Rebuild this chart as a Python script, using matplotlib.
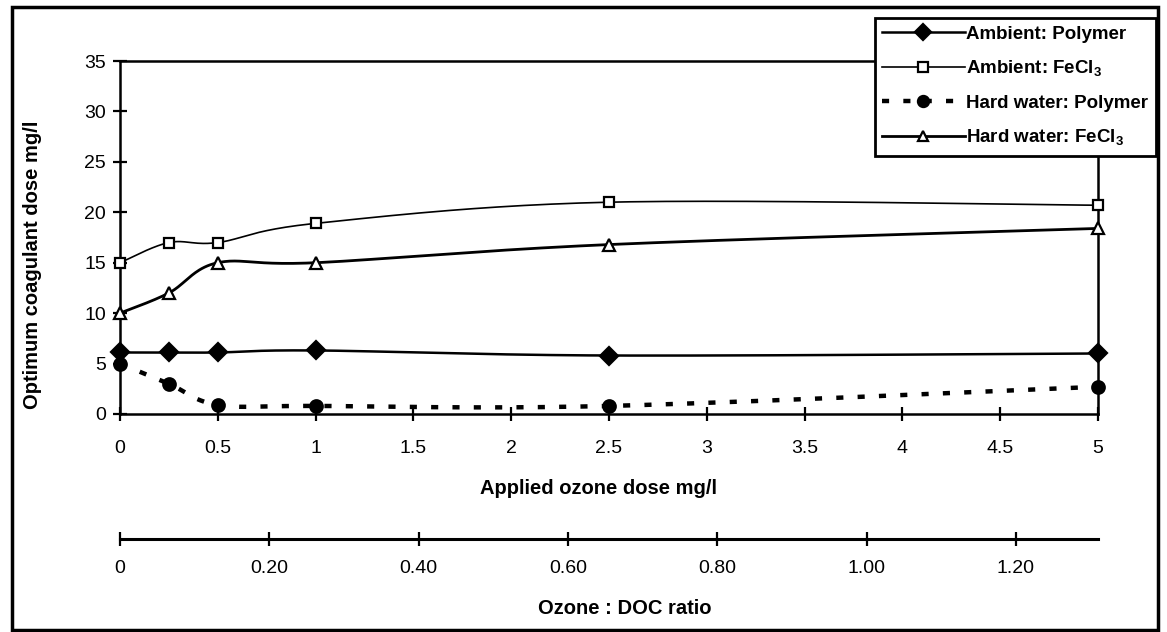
import numpy as np
import matplotlib
matplotlib.use("Agg")
import matplotlib.pyplot as plt
from matplotlib.lines import Line2D
from matplotlib.patches import Rectangle

plt.rcParams['font.family'] = ['Liberation Sans', 'DejaVu Sans']
plt.rcParams['mathtext.fontset'] = 'custom'
plt.rcParams['mathtext.rm'] = 'Liberation Sans'
plt.rcParams['mathtext.bf'] = 'Liberation Sans:bold'

# data
ozone_dose = [0, 0.25, 0.5, 1, 2.5, 5]
ambient_polymer = [6.1, 6.1, 6.1, 6.3, 5.8, 6.0]
ambient_fecl3 = [15.0, 17.0, 17.0, 18.9, 21.0, 20.7]
hard_polymer = [5.0, 3.0, 0.9, 0.8, 0.8, 2.7]
hard_fecl3 = [10.0, 12.0, 15.0, 15.0, 16.8, 18.4]

x_ticks = [0, 0.5, 1, 1.5, 2, 2.5, 3, 3.5, 4, 4.5, 5]
x_ticklabels = ["0", "0.5", "1", "1.5", "2", "2.5", "3", "3.5", "4", "4.5", "5"]
y_ticks = [0, 5, 10, 15, 20, 25, 30, 35]
doc_ticks = [0, 0.2, 0.4, 0.6, 0.8, 1.0, 1.2]
doc_ticklabels = ["0", "0.20", "0.40", "0.60", "0.80", "1.00", "1.20"]
doc_max = 1.31

labels = ["Ambient: Polymer", "Ambient: FeCl$_\\mathbf{3}$",
          "Hard water: Polymer", "Hard water: FeCl$_\\mathbf{3}$"]


def smooth(x, y, n=40):
    """Excel-like smoothed line (bezier through the points)"""
    p = np.column_stack([x, y]).astype(float)
    out = []
    for i in range(len(p) - 1):
        p0 = p[i - 1] if i > 0 else p[i]
        p1, p2 = p[i], p[i + 1]
        p3 = p[i + 2] if i + 2 < len(p) else p[i + 1]
        c1 = p1 + (p2 - p0) / 6
        c2 = p2 - (p3 - p1) / 6
        t = np.linspace(0, 1, n)[:, None]
        seg = ((1 - t) ** 3 * p1 + 3 * (1 - t) ** 2 * t * c1
               + 3 * (1 - t) * t ** 2 * c2 + t ** 3 * p2)
        out.append(seg if i == 0 else seg[1:])
    seg = np.vstack(out)
    return seg[:, 0], seg[:, 1]


W, H = 1167, 632
fig = plt.figure(figsize=(W / 100, H / 100), dpi=100)
ax = fig.add_axes([120 / W, 1 - 414 / H, (1098 - 120) / W, (414 - 61) / H])

styles = [
    dict(data=ambient_polymer, lw=1.8, ls='-', marker='D', ms=9, mfc='black'),
    dict(data=ambient_fecl3, lw=1.2, ls='-', marker='s', ms=7.5, mfc='white'),
    dict(data=hard_polymer, lw=3.2, ls=(0, (1.6, 3.2)), marker='o', ms=9, mfc='black'),
    dict(data=hard_fecl3, lw=2.0, ls='-', marker='^', ms=8.5, mfc='white'),
]

handles = []
for st, lab in zip(styles, labels):
    sx, sy = smooth(ozone_dose, st['data'])
    ax.plot(sx, sy, color='black', lw=st['lw'], ls=st['ls'], clip_on=False,
            dash_capstyle='butt')
    ax.plot(ozone_dose, st['data'], ls='none', marker=st['marker'], ms=st['ms'],
            mfc=st['mfc'], mec='black', mew=1.6, clip_on=False, zorder=4)
    handles.append(Line2D([], [], color='black', lw=st['lw'], ls=st['ls'],
                          marker=st['marker'], ms=st['ms'] - 1, mfc=st['mfc'],
                          mec='black', mew=1.6, label=lab))

ax.set_xlim(0, 5)
ax.set_ylim(0, 35)
ax.set_xticks(x_ticks)
ax.set_xticklabels(x_ticklabels)
ax.set_yticks(y_ticks)
for s in ax.spines.values():
    s.set_linewidth(1.8)
ax.tick_params(direction='inout', length=10, width=1.6, labelsize=14, pad=14)
ax.tick_params(axis='y', pad=5)

# second scale: ozone : DOC ratio
ax2 = fig.add_axes([120 / W, 1 - 539 / H, (1098 - 120) / W, 0.0001])
for k in ['top', 'left', 'right']:
    ax2.spines[k].set_visible(False)
ax2.spines['bottom'].set_linewidth(2.2)
ax2.set_yticks([])
ax2.set_xlim(0, doc_max)
ax2.set_xticks(doc_ticks)
ax2.set_xticklabels(doc_ticklabels)
ax2.tick_params(direction='inout', length=10, width=1.6, labelsize=14, pad=10)
ax2.patch.set_visible(False)

fig.text(598 / W, 1 - 488 / H, "Applied ozone dose mg/l", ha='center', va='center',
         fontsize=14.5, fontweight='bold')
fig.text(625 / W, 1 - 608 / H, "Ozone : DOC ratio", ha='center', va='center',
         fontsize=14.5, fontweight='bold')
fig.text(33 / W, 1 - 265 / H, "Optimum coagulant dose mg/l", ha='center', va='center',
         rotation=90, fontsize=14.5, fontweight='bold')

leg = fig.legend(handles=handles, loc='upper right',
                 bbox_to_anchor=(1156 / W, 1 - 18 / H),
                 prop={'size': 13.5, 'weight': 'bold'},
                 handlelength=4.4, handletextpad=0.1, labelspacing=0.85,
                 borderpad=0.4, borderaxespad=0, fancybox=False,
                 edgecolor='black', framealpha=1)
leg.get_frame().set_linewidth(2.0)

fig.patches.append(Rectangle((12 / W, 1 - 630 / H), (1158 - 12) / W, (630 - 7) / H,
                             transform=fig.transFigure, fill=False, lw=2.5,
                             edgecolor='black'))

fig.savefig("out.png", dpi=100)
